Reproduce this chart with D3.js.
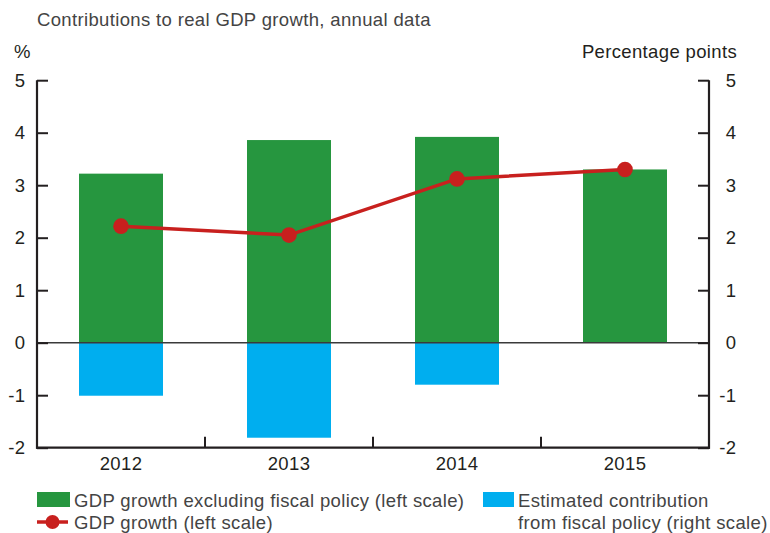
<!DOCTYPE html>
<html><head><meta charset="utf-8">
<script src="https://cdn.jsdelivr.net/npm/d3@7"></script>
<style>body{margin:0;background:#fff}svg{display:block;font-family:"Liberation Sans",Arial,Helvetica,sans-serif}text{letter-spacing:0.35px}</style>
</head><body><svg id="c" width="770" height="533"></svg>
<script>
const years = ["2012","2013","2014","2015"];
const gdpExFiscal = [3.22, 3.86, 3.92, 3.30];
const fiscalContribution = [-1.01, -1.81, -0.80, 0];
const gdpGrowth = [2.22, 2.05, 3.12, 3.30];
const yTicks = [-2,-1,0,1,2,3,4,5];

const svg = d3.select("#c");
const L = 37, R = 709, T = 80.2, B = 447.7;
const FS = 18.5;
const x = d3.scaleBand().domain(years).range([L, R]).paddingInner(0.5).paddingOuter(0.25);
const yL = d3.scaleLinear().domain([-2,5]).range([B, T]);
const yR = d3.scaleLinear().domain([-2,5]).range([B, T]);
const txt = "#231f20";

svg.append("text").attr("x",37).attr("y",26).attr("font-size",FS).attr("fill","#444").text("Contributions to real GDP growth, annual data");
svg.append("text").attr("x",14).attr("y",58).attr("font-size",FS).attr("fill",txt).text("%");
svg.append("text").attr("x",737).attr("y",58).attr("text-anchor","end").attr("font-size",FS).attr("fill",txt).text("Percentage points");

// bars
svg.append("g").selectAll("rect").data(years).join("rect")
  .attr("x", d=>x(d)).attr("width", x.bandwidth())
  .attr("y", (d,i)=>yL(gdpExFiscal[i])).attr("height",(d,i)=>yL(0)-yL(gdpExFiscal[i]))
  .attr("fill","#26963f");
svg.append("g").selectAll("rect").data(years).join("rect")
  .attr("x", d=>x(d)).attr("width", x.bandwidth())
  .attr("y", yR(0)).attr("height",(d,i)=>yR(fiscalContribution[i])-yR(0))
  .attr("fill","#00aeef");

// zero line
svg.append("line").attr("x1",L).attr("x2",R).attr("y1",yL(0)).attr("y2",yL(0)).attr("stroke","#3a3a3a").attr("stroke-width",1.5);

// axes
const leftAx = svg.append("g").attr("transform",`translate(${L},0)`)
  .call(d3.axisRight(yL).tickValues(yTicks).tickSize(11).tickFormat(""));
const rightAx = svg.append("g").attr("transform",`translate(${R},0)`)
  .call(d3.axisLeft(yR).tickValues(yTicks).tickSize(11).tickFormat(""));
const boundaries = years.slice(1).map(d=>x(d)-x.step()*x.paddingInner()/2);
const xAx = svg.append("g").attr("transform",`translate(0,${B})`)
  .call(d3.axisBottom(x).tickSize(0).tickPadding(8));
xAx.selectAll("text").attr("font-size",FS).attr("fill",txt).attr("font-family",null).attr("dy","0").attr("y",22.5);
xAx.select(".domain").remove();
svg.append("g").selectAll("line").data(boundaries).join("line")
  .attr("x1",d=>d).attr("x2",d=>d).attr("y1",B).attr("y2",B-11).attr("stroke",txt).attr("stroke-width",2);
[leftAx,rightAx].forEach(g=>{g.select(".domain").remove();g.selectAll("line").attr("stroke",txt).attr("stroke-width",2);});
svg.append("line").attr("x1",L).attr("x2",L).attr("y1",T).attr("y2",B+1).attr("stroke",txt).attr("stroke-width",2.2);
svg.append("line").attr("x1",R).attr("x2",R).attr("y1",T).attr("y2",B+1).attr("stroke",txt).attr("stroke-width",2.2);
svg.append("line").attr("x1",L-1).attr("x2",R+1).attr("y1",B).attr("y2",B).attr("stroke",txt).attr("stroke-width",2.2);

svg.append("g").selectAll("text").data(yTicks).join("text")
  .attr("x",25.5).attr("y",d=>yL(d)+6.5).attr("text-anchor","end").attr("font-size",FS).attr("fill",txt).text(d=>d);
svg.append("g").selectAll("text").data(yTicks).join("text")
  .attr("x",736.5).attr("y",d=>yR(d)+6.5).attr("text-anchor","end").attr("font-size",FS).attr("fill",txt).text(d=>d);

// line
const cx = d=>x(d)+x.bandwidth()/2;
svg.append("path").datum(years).attr("fill","none").attr("stroke","#c8201e").attr("stroke-width",3.5)
  .attr("d", d3.line().x(d=>cx(d)).y((d,i)=>yL(gdpGrowth[i])));
svg.append("g").selectAll("circle").data(years).join("circle")
  .attr("cx",cx).attr("cy",(d,i)=>yL(gdpGrowth[i])).attr("r",7.8).attr("fill","#c8201e");

// legend
const lg = svg.append("g");
lg.append("rect").attr("x",37).attr("y",492).attr("width",33).attr("height",15).attr("fill","#26963f");
lg.append("text").attr("x",74).attr("y",506.5).attr("font-size",FS).attr("fill","#444").text("GDP growth excluding fiscal policy (left scale)");
lg.append("rect").attr("x",483).attr("y",492).attr("width",31).attr("height",15).attr("fill","#00aeef");
lg.append("text").attr("x",518).attr("y",506.5).attr("font-size",FS).attr("fill","#444").text("Estimated contribution");
lg.append("text").attr("x",518).attr("y",528.5).attr("font-size",FS).attr("fill","#444").text("from fiscal policy (right scale)");
lg.append("line").attr("x1",37).attr("x2",68).attr("y1",522).attr("y2",522).attr("stroke","#c8201e").attr("stroke-width",3.5);
lg.append("circle").attr("cx",52.5).attr("cy",522).attr("r",7).attr("fill","#c8201e");
lg.append("text").attr("x",74).attr("y",528.5).attr("font-size",FS).attr("fill","#444").text("GDP growth (left scale)");
</script></body></html>
